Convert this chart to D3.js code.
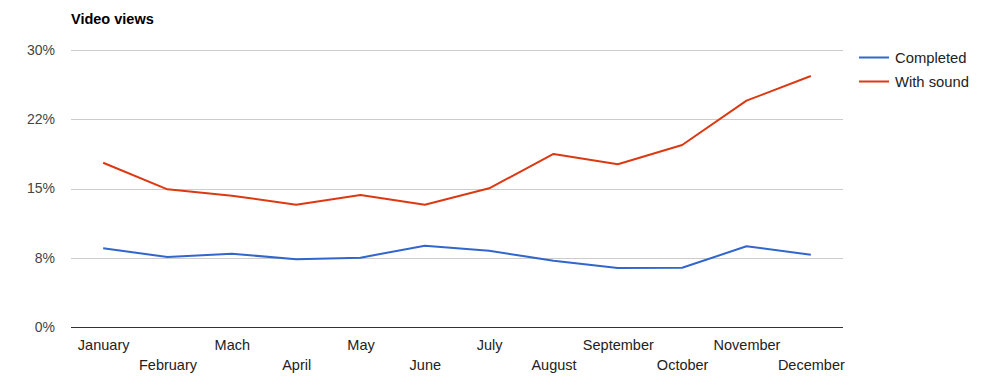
<!DOCTYPE html>
<html>
<head>
<meta charset="utf-8">
<script src="https://cdn.jsdelivr.net/npm/d3@7"></script>
<style>
  body { margin: 0; background: #fff; }
  svg { font-family: "Liberation Sans", Arial, sans-serif; }
</style>
</head>
<body>
<div id="chart"></div>
<script>
// data
const months = ['January', 'February', 'Mach', 'April', 'May', 'June',
  'July', 'August', 'September', 'October', 'November', 'December'];
const completed = [0.0852, 0.0758, 0.0794, 0.0733, 0.0751, 0.0881,
  0.0826, 0.0718, 0.0639, 0.0642, 0.0874, 0.0783];
const withSound = [0.1779, 0.1491, 0.1422, 0.1325, 0.1430, 0.1325,
  0.1502, 0.1874, 0.1762, 0.1971, 0.2451, 0.2718];
const seriesNames = ['Completed', 'With sound'];
const yTicks = [0, 0.075, 0.15, 0.225, 0.3];
const yTickLabels = ['0%', '8%', '15%', '22%', '30%'];

const W = 990, H = 386;
const plotLeft = 71, plotRight = 843, plotTop = 50, plotBottom = 327;
const colors = ['#3366cc', '#dc3912'];

const svg = d3.select('#chart').append('svg')
  .attr('width', W)
  .attr('height', H);

const x = d3.scalePoint().domain(months).range([plotLeft, plotRight]).padding(0.5);
const y = d3.scaleLinear().domain([0, 0.3]).range([plotBottom, plotTop]);

// title
svg.append('text')
  .attr('x', plotLeft)
  .attr('y', 24)
  .style('font-size', '14.5px')
  .style('font-weight', 'bold')
  .style('fill', '#000')
  .text('Video views');

// y axis + gridlines
const yAxis = svg.append('g')
  .attr('transform', `translate(${plotLeft},0)`)
  .call(d3.axisLeft(y)
    .tickValues(yTicks)
    .tickFormat((d, i) => yTickLabels[i])
    .tickSize(-(plotRight - plotLeft))
    .tickPadding(16));
yAxis.select('.domain').remove();
yAxis.selectAll('line').attr('stroke', '#cccccc').attr('shape-rendering', 'crispEdges');
yAxis.selectAll('text')
  .style('font-size', '14px')
  .style('fill', '#444')
  .style('font-family', '"Liberation Sans", Arial, sans-serif');

// baseline
svg.append('line')
  .attr('x1', plotLeft).attr('x2', plotRight)
  .attr('y1', y(0)).attr('y2', y(0))
  .attr('stroke', '#333')
  .attr('shape-rendering', 'crispEdges');

// x axis, labels staggered in two rows
const xAxis = svg.append('g')
  .attr('transform', `translate(0,${plotBottom})`)
  .call(d3.axisBottom(x).tickSize(0).tickPadding(0));
xAxis.select('.domain').remove();
xAxis.selectAll('text')
  .attr('dy', null)
  .attr('y', (d, i) => i % 2 === 0 ? 22.5 : 42.5)
  .style('font-size', '14.5px')
  .style('fill', '#222')
  .style('font-family', '"Liberation Sans", Arial, sans-serif');

// lines
const line = d3.line()
  .x((d, i) => x(months[i]))
  .y(d => y(d));

[completed, withSound].forEach((series, k) => {
  svg.append('path')
    .datum(series)
    .attr('fill', 'none')
    .attr('stroke', colors[k])
    .attr('stroke-width', 2)
    .attr('stroke-linejoin', 'round')
    .attr('d', line);
});

// legend
const legend = svg.append('g');
seriesNames.forEach((name, k) => {
  const ly = 57.5 + k * 24;
  legend.append('line')
    .attr('x1', 859).attr('x2', 889)
    .attr('y1', ly).attr('y2', ly)
    .attr('stroke', colors[k])
    .attr('stroke-width', 2);
  legend.append('text')
    .attr('x', 895)
    .attr('y', ly + 5)
    .style('font-size', '14.8px')
    .style('fill', '#222')
    .text(name);
});
</script>
</body>
</html>
